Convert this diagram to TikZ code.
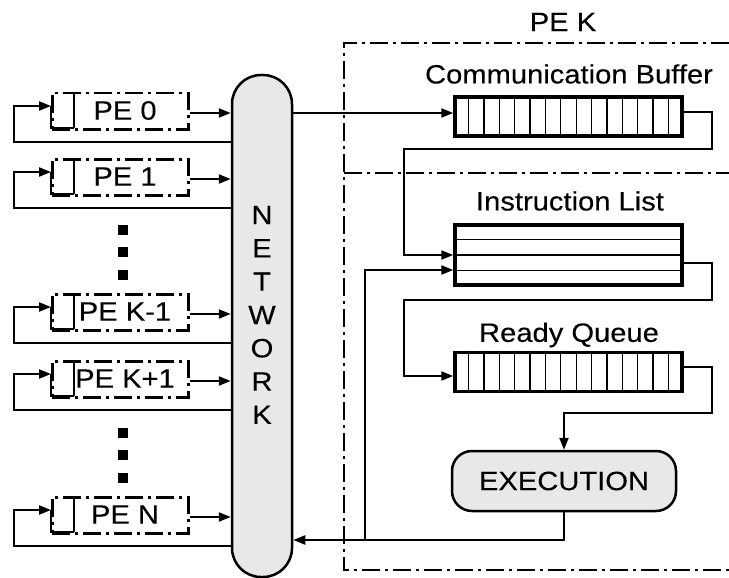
\documentclass[tikz,border=0pt]{standalone}
\usepackage{fontspec}
\setmainfont{Liberation Sans}
\newfontfamily\labfont[FakeStretch=1.1,FakeBold=0.2]{Liberation Sans}
\usetikzlibrary{arrows.meta,calc}
\begin{document}
\begin{tikzpicture}[x=1pt,y=-1pt,
  line width=2.2pt,
  arr/.style={-{Triangle[length=12pt,width=9pt]}},
  dashdot/.style={line width=2.5pt,dash pattern=on 18pt off 5pt on 3pt off 5pt},
  pebox/.style={draw,dashdot,minimum width=136pt,minimum height=36pt,inner sep=0pt,anchor=north west},
  lbl/.style={font={\labfont\fontsize{26.5pt}{28pt}\selectfont},inner sep=0pt},
  buf/.style={draw,line width=3.5pt,minimum width=227pt,inner sep=0pt},
  cell/.style={line width=1.2pt},
  dotsq/.style={fill=black,minimum size=10pt,inner sep=0pt},
  grayfill/.style={fill=gray!18},
]
\useasboundingbox (0,0) rectangle (729,578);

% network
\node[draw,line width=2.5pt,grayfill,rounded corners=29pt,minimum width=60pt,minimum height=502pt,inner sep=0pt] (net) at (262,326) {};
\foreach \ch [count=\k from 0] in {N,E,T,W,O,R,K}
  \node[lbl] (net\k) at (262,215+\k*33.3) {\ch};

% left PEs
\foreach \t/\l/\n in {92/PE 0/p0,158/PE 1/p1,293/PE K-1/pk1,360/PE K+1/pk2,496/PE N/pn}{
  \node[pebox] (\n) at (51,\t) {};
  \node[lbl] (\n t) at (125,\t+18.5) {\l};
  \draw (74,\t) -- (74,\t+36);
  \draw (51,\t+14) -- (51,\t+36) -- (74,\t+36);
  \draw[arr] (\n.east |- 0,\t+21) -- (net.west |- 0,\t+21);
  \draw[arr] (net.west |- 0,\t+50) -- (14,\t+50) -- (14,\t+14) -- (\n.west |- 0,\t+14);
}
\foreach \y [count=\k] in {229.5,252,274.5,432.5,454.5,477.5}
  \node[dotsq] (d\k) at (123,\y) {};

% PE K frame
\draw[dashdot] (729,43) -- (344,43) -- (344,570) -- (729,570);
\draw[dashdot] (344,173) -- (729,173);
\node[lbl] (pek) at (563,22) {PE K};

% buffers
\node[buf,minimum height=39pt] (cb) at (568.5,116.5) {};
\node[buf,minimum height=60pt] (il) at (568.5,255) {};
\node[buf,minimum height=39pt] (rq) at (568.5,372) {};
\foreach \i in {1,...,14}{
  \draw[cell] ($(cb.north west)!\i/15!(cb.north east)$) -- ($(cb.south west)!\i/15!(cb.south east)$);
  \draw[cell] ($(rq.north west)!\i/15!(rq.north east)$) -- ($(rq.south west)!\i/15!(rq.south east)$);
}
\foreach \i in {1,2,3}
  \draw[cell] ($(il.north west)!\i/4!(il.south west)$) -- ($(il.north east)!\i/4!(il.south east)$);
\node[lbl] (cbl) at (569,74) {Communication Buffer};
\node[lbl] (ill) at (570,201) {Instruction List};
\node[lbl] (rql) at (569,335) {Ready Queue};

% execution
\node[draw,line width=2.5pt,grayfill,rounded corners=20pt,minimum width=224pt,minimum height=60pt,inner sep=0pt,font={\labfont\fontsize{26.5pt}{28pt}\selectfont}] (ex) at (564,481) {EXECUTION};

% connectors
\draw[arr] (net.east |- 0,113) -- (cb.west |- 0,113);
\draw[arr] (cb.east |- 0,112) -- (712,112) -- (712,149) -- (404,149) -- (404,255) -- (il.west |- 0,255);
\draw[arr] (il.east |- 0,263) -- (712,263) -- (712,300) -- (404,300) -- (404,376) -- (rq.west |- 0,376);
\draw[arr] (rq.east |- 0,367) -- (712,367) -- (712,413) -- (ex.north |- 0,413) -- (ex.north);
\coordinate (br) at (365,540);
\draw[arr] (ex.south) -- (ex.south |- br) -- (net.east |- br);
\draw[arr] (br) -- (365,270) -- (il.west |- 0,270);
\end{tikzpicture}
\end{document}
